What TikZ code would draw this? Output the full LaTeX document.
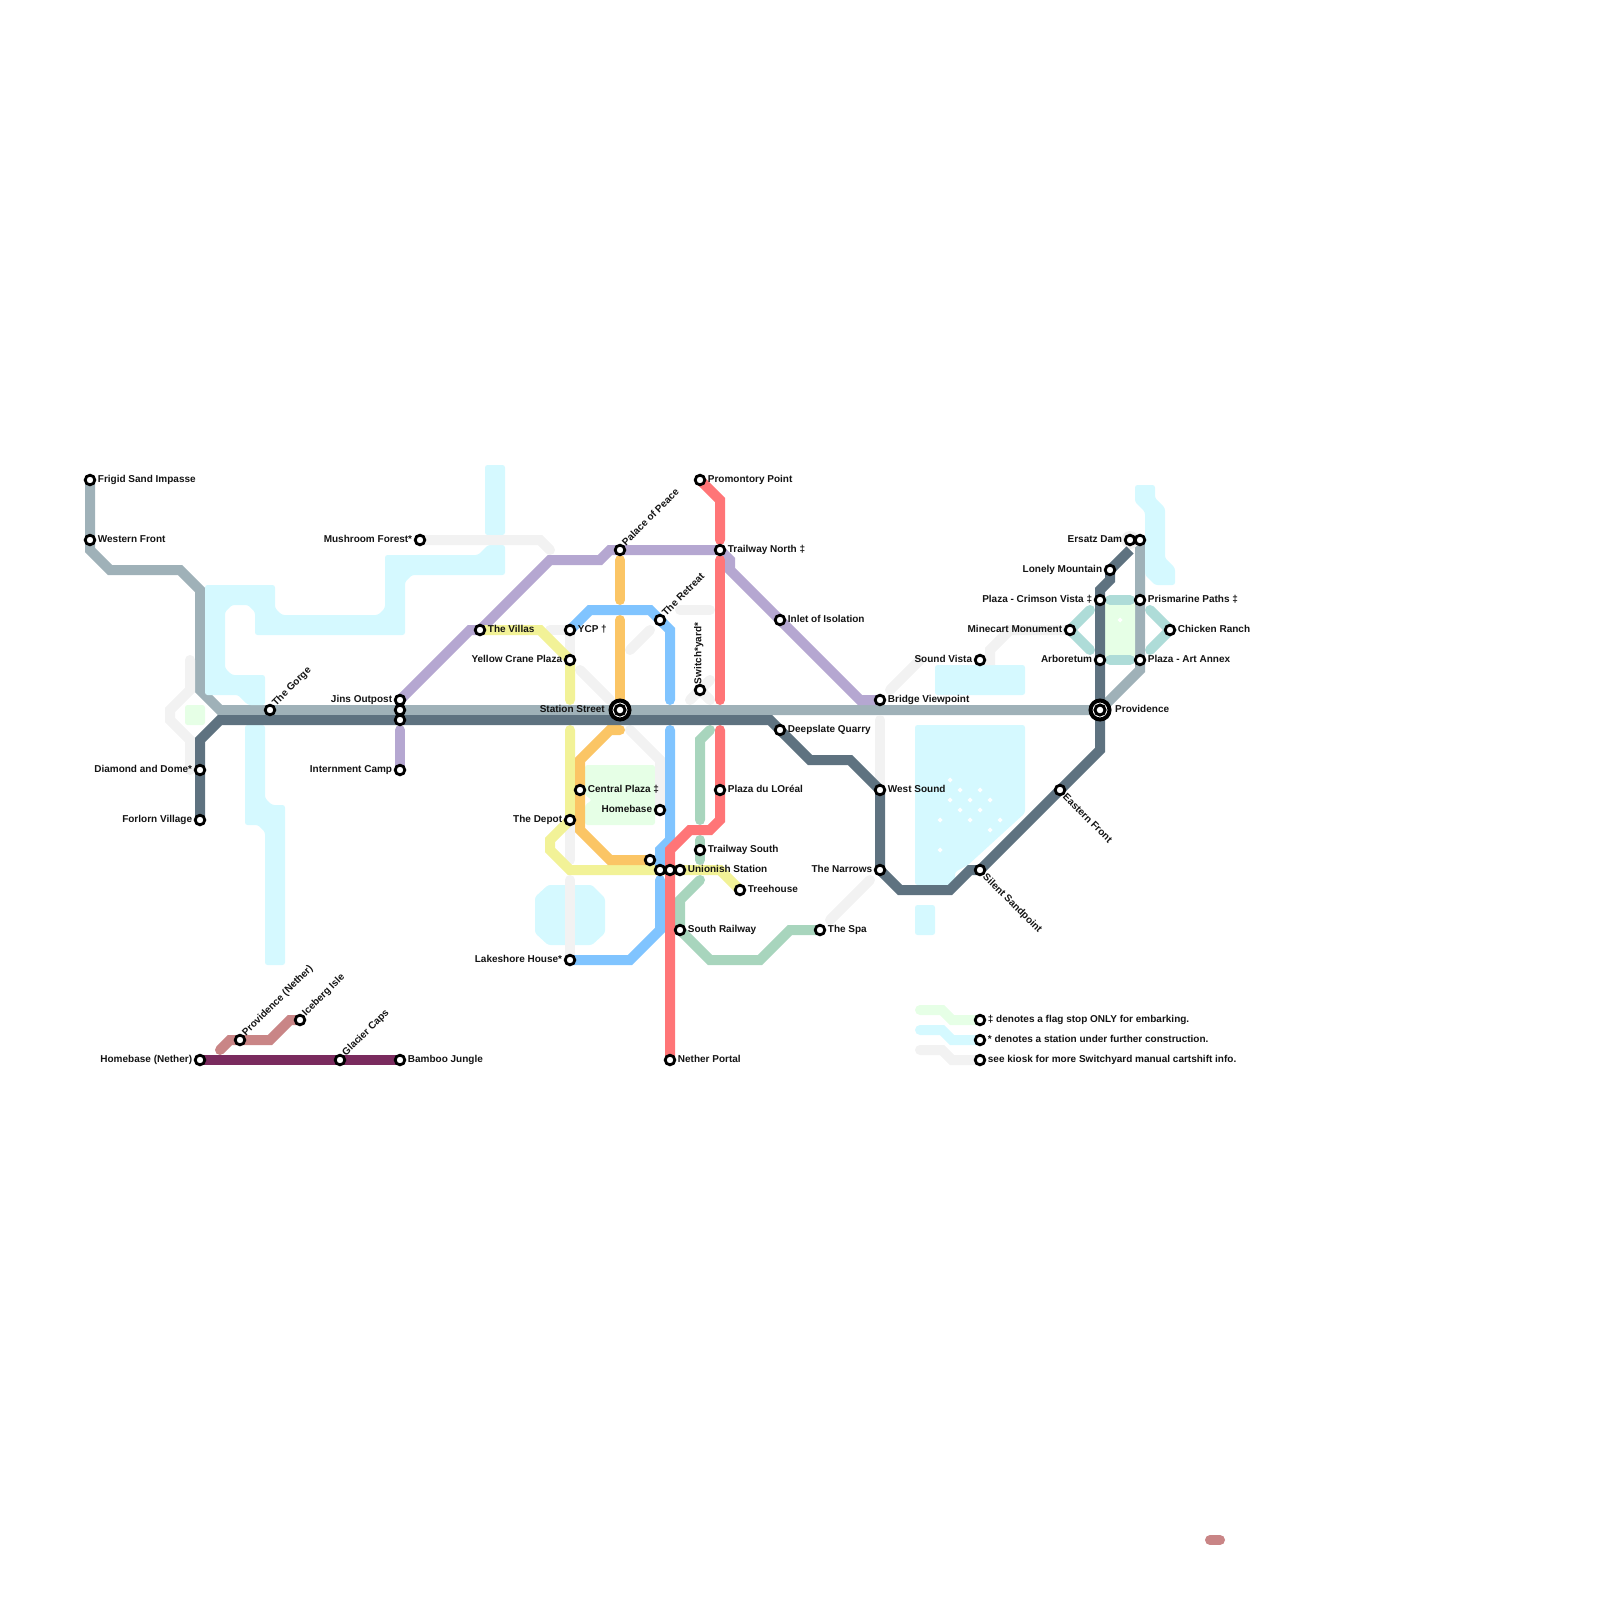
\documentclass[tikz,border=0pt]{standalone}
\usepackage{fontspec}
\setmainfont{Liberation Sans}
\usepackage{tikz}
\usetikzlibrary{backgrounds}
\definecolor{Frost}{HTML}{D5F9FF}
\definecolor{Mint}{HTML}{E6FFE6}
\definecolor{Haze}{HTML}{F2F2F2}
\definecolor{Steel}{HTML}{9FB1B8}
\definecolor{Slate}{HTML}{5E7280}
\definecolor{Lilac}{HTML}{B5A7D1}
\definecolor{Coral}{HTML}{FF7577}
\definecolor{Amber}{HTML}{FBC565}
\definecolor{Sky}{HTML}{80C4FF}
\definecolor{Lemon}{HTML}{F2F297}
\definecolor{Sage}{HTML}{A8D5BD}
\definecolor{Teal}{HTML}{AEDCD8}
\definecolor{Plum}{HTML}{7A2B5E}
\definecolor{Rose}{HTML}{C98586}
\tikzset{
maplabel/.style={font=\fontsize{10}{12}\selectfont\bfseries, inner sep=1pt, text height=7pt, text depth=1.7pt, text=black!92},
mapstop/.style={circle, draw=black, line width=2.8pt, fill=white, inner sep=0pt, outer sep=0pt, minimum size=9.6pt},
mapbig/.style={circle, draw=black, line width=4pt, fill=white, inner sep=0pt, outer sep=0pt, minimum size=19pt},
lblr/.style={label={[maplabel, anchor=west, label distance=1.9pt]0:#1}},
lbll/.style={label={[maplabel, anchor=east, label distance=1.9pt]180:#1}},
lblne/.style={label={[maplabel, rotate=45, anchor=west, label distance=1.3pt]45:#1}},
lblse/.style={label={[maplabel, rotate=-45, anchor=west, label distance=1.3pt]-45:#1}},
lblup/.style={label={[maplabel, rotate=90, anchor=west, label distance=1.3pt]90:#1}},
mapline/.style={line width=10pt, line cap=round, line join=miter},
mapwater/.style={fill=Frost, rounded corners=2.5pt},
mapfield/.style={fill=Mint, rounded corners=2.5pt}
}
\begin{document}
\begin{tikzpicture}[x=1pt, y=-1pt]
  \useasboundingbox (0,0) rectangle (1600,1600);
  % west side
  \node[mapstop, lblr={Frigid Sand Impasse}] (frigid) at (90,480) {};
  \node[mapstop, lblr={Western Front}] (western) at (90,540) {};
  \node[mapstop, lbll={Diamond and Dome*}] (diamond) at (200,770) {};
  \node[mapstop, lbll={Forlorn Village}] (forlorn) at (200,820) {};
  \node[mapstop, lblne={The Gorge}] (gorge) at (270,710) {};
  \node[mapstop, lbll={Mushroom Forest*}] (mushroom) at (420,540) {};
  \node[mapstop, lbll={Jins Outpost}] (jins) at (400,700) {};
  \node[mapstop] (jinsmid) at (400,710) {};
  \node[mapstop] (jinslow) at (400,720) {};
  \node[mapstop, lbll={Internment Camp}] (internment) at (400,770) {};
  \node[mapstop, lblr={The Villas}] (villas) at (480,630) {};
  % centre
  \node[mapstop, lblr={YCP †}] (ycp) at (570,630) {};
  \node[mapstop, lbll={Yellow Crane Plaza}] (crane) at (570,660) {};
  \node[mapstop, lbll={The Depot}] (depot) at (570,820) {};
  \node[mapstop, lbll={Lakeshore House*}] (lakeshore) at (570,960) {};
  \node[mapstop, lblr={Central Plaza ‡}] (central) at (580,790) {};
  \node[mapstop, lblne={Palace of Peace}] (palace) at (620,550) {};
  \node[mapbig, label={[maplabel, anchor=east, label distance=4.5pt]180:Station Street}] (station) at (620,710) {};
  \node[mapstop, minimum size=10pt, line width=3pt] (stationin) at (620,710) {};
  \node[mapstop] (orangeend) at (650,860) {};
  \node[mapstop, lblne={The Retreat}] (retreat) at (660,620) {};
  \node[mapstop, lbll={Homebase}] (homebase) at (660,810) {};
  \node[mapstop] (unionw) at (660,870) {};
  \node[mapstop] (unionm) at (670,870) {};
  \node[mapstop, lblr={Unionish Station}] (union) at (680,870) {};
  \node[mapstop, lblr={Nether Portal}] (nether) at (670,1060) {};
  \node[mapstop, lblr={South Railway}] (south) at (680,930) {};
  \node[mapstop, lblr={Promontory Point}] (promontory) at (700,480) {};
  \node[mapstop, lblup={Switch*yard*}] (switchyard) at (700,690) {};
  \node[mapstop, lblr={Trailway South}] (trailsouth) at (700,850) {};
  \node[mapstop, lblr={Trailway North ‡}] (trailnorth) at (720,550) {};
  \node[mapstop, lblr={Plaza du LOréal}] (loreal) at (720,790) {};
  \node[mapstop, lblr={Treehouse}] (treehouse) at (740,890) {};
  \node[mapstop, lblr={Inlet of Isolation}] (inlet) at (780,620) {};
  \node[mapstop, lblr={Deepslate Quarry}] (deepslate) at (780,730) {};
  \node[mapstop, lblr={The Spa}] (spa) at (820,930) {};
  % east side
  \node[mapstop, lblr={Bridge Viewpoint}] (bridge) at (880,700) {};
  \node[mapstop, lblr={West Sound}] (westsound) at (880,790) {};
  \node[mapstop, lbll={The Narrows}] (narrows) at (880,870) {};
  \node[mapstop, lbll={Sound Vista}] (vista) at (980,660) {};
  \node[mapstop, lblse={Silent Sandpoint}] (silent) at (980,870) {};
  \node[mapstop, lblse={Eastern Front}] (eastern) at (1060,790) {};
  \node[mapstop, lbll={Minecart Monument}] (minecart) at (1070,630) {};
  \node[mapstop, lbll={Plaza - Crimson Vista ‡}] (crimson) at (1100,600) {};
  \node[mapstop, lbll={Arboretum}] (arboretum) at (1100,660) {};
  \node[mapbig, label={[maplabel, anchor=west, label distance=4.5pt]0:Providence}] (providence) at (1100,710) {};
  \node[mapstop, minimum size=10pt, line width=3pt] (providencein) at (1100,710) {};
  \node[mapstop, lbll={Lonely Mountain}] (lonely) at (1110,570) {};
  \node[mapstop, lbll={Ersatz Dam}] (ersatz) at (1130,540) {};
  \node[mapstop] (ersatzr) at (1140,540) {};
  \node[mapstop, lblr={Prismarine Paths ‡}] (prismarine) at (1140,600) {};
  \node[mapstop, lblr={Plaza - Art Annex}] (annex) at (1140,660) {};
  \node[mapstop, lblr={Chicken Ranch}] (chicken) at (1170,630) {};
  % nether
  \node[mapstop, lbll={Homebase (Nether)}] (homenether) at (200,1060) {};
  \node[mapstop, lblne={Providence (Nether)}] (provnether) at (240,1040) {};
  \node[mapstop, lblne={Iceberg Isle}] (iceberg) at (300,1020) {};
  \node[mapstop, lblne={Glacier Caps}] (glacier) at (340,1060) {};
  \node[mapstop, lblr={Bamboo Jungle}] (bamboo) at (400,1060) {};
  % key
  \node[mapstop, lblr={‡ denotes a flag stop ONLY for embarking.}] (keyflag) at (980,1020) {};
  \node[mapstop, lblr={* denotes a station under further construction.}] (keybuild) at (980,1040) {};
  \node[mapstop, lblr={see kiosk for more Switchyard manual cartshift info.}] (keykiosk) at (980,1060) {};

  \begin{scope}[on background layer]
    % trunk first, the water sits on its corner
    \draw[mapline, draw=Steel, line cap=butt] (frigid.center) -- (western.center) -- (90,550) -- (110,570) -- (180,570) -- (200,590) -- (200,690) -- (220,710) -- (gorge.center) -- (jinsmid.center) -- (station.center) -- (providence.center) -- (1140,670) -- (annex.center) -- (prismarine.center) -- (ersatzr.center);
    % water
    \path[mapwater] (485,465) rectangle (505,535);
    \path[mapwater] (385,555) -- (478,555) -- (488,545) -- (505,545) -- (505,575) -- (412,575) -- (405,582) -- (405,635) -- (255,635) -- (255,612) -- (248,605) -- (232,605) -- (225,612) -- (225,668) -- (232,675) -- (265,675) -- (265,705) -- (248,705) -- (238,695) -- (205,695) -- (205,585) -- (275,585) -- (275,608) -- (282,615) -- (378,615) -- (385,608) -- cycle;
    \path[mapwater] (245,725) -- (265,725) -- (265,798) -- (272,805) -- (285,805) -- (285,965) -- (265,965) -- (265,832) -- (258,825) -- (245,825) -- cycle;
    \path[mapwater] (535,897) -- (548,885) -- (592,885) -- (605,898) -- (605,933) -- (592,945) -- (548,945) -- (535,933) -- cycle;
    \path[mapwater] (935,665) rectangle (1025,695);
    \path[mapwater] (915,905) rectangle (935,935);
    \path[mapwater] (915,725) -- (1025,725) -- (1025,813) -- (968,865) -- (955,872) -- (955,885) -- (915,885) -- cycle;
    \path[mapwater] (1135,485) -- (1155,485) -- (1155,498) -- (1165,508) -- (1165,558) -- (1175,568) -- (1175,585) -- (1155,585) -- (1145,575) -- (1145,512) -- (1135,502) -- cycle;
    \foreach \dotx/\doty in {950/780,960/790,980/790,950/800,970/800,990/800,960/810,980/810,940/820,970/820,1000/820,990/830,940/850}
      \fill[white] (\dotx-2.5,\doty) -- (\dotx,\doty-2.5) -- (\dotx+2.5,\doty) -- (\dotx,\doty+2.5) -- cycle;
    % fields
    \path[mapfield] (185,705) rectangle (205,725);
    \path[mapfield] (585,765) -- (655,765) -- (655,825) -- (585,825) -- (585,805) -- (592,800) -- (585,795) -- cycle;
    \path[mapfield] (1105,603) rectangle (1135,657);
    \fill[white] (1117.5,620) -- (1120,617.5) -- (1122.5,620) -- (1120,622.5) -- cycle;
    % switchyard tracks
    \draw[mapline, draw=Haze] (mushroom.center) -- (540,540) -- (550,550);
    \draw[mapline, draw=Haze] (190,660) -- (190,690) -- (170,710) -- (170,720) -- (190,740) -- (190,770);
    \draw[mapline, draw=Haze] (550,630) -- (ycp.center) -- (crane.center);
    \draw[mapline, draw=Haze] (580,670) -- (610,700);
    \draw[mapline, draw=Haze] (630,730) -- (660,760) -- (homebase.center);
    \draw[mapline, draw=Haze] (depot.center) -- (570,860);
    \draw[mapline, draw=Haze] (570,880) -- (lakeshore.center);
    \draw[mapline, draw=Haze] (630,650) -- (650,630);
    \draw[mapline, draw=Haze] (680,610) -- (710,610);
    \draw[mapline, draw=Haze] (690,700) -- (710,680);
    \draw[mapline, draw=Haze] (switchyard.center) -- (710,700);
    \draw[mapline, draw=Haze] (880,720) -- (westsound.center);
    \draw[mapline, draw=Haze] (890,690) -- (920,660);
    \draw[mapline, draw=Haze] (vista.center) -- (990,660) -- (990,650) -- (1010,630) -- (minecart.center);
    \draw[mapline, draw=Haze] (830,920) -- (870,880);
    \fill[Haze] (ersatz.center) circle (9);
    % lines
    \draw[mapline, draw=Lilac] (jins.center) -- (470,630) -- (villas.center) -- (550,560) -- (600,560) -- (610,550) -- (palace.center) -- (trailnorth.center) -- (730,560) -- (730,570) -- (inlet.center) -- (860,700) -- (bridge.center);
    \draw[mapline, draw=Lilac] (400,730) -- (internment.center);
    \draw[mapline, draw=Lemon] (villas.center) -- (540,630) -- (crane.center) -- (570,700);
    \draw[mapline, draw=Lemon] (570,730) -- (depot.center) -- (550,840) -- (550,850) -- (570,870) -- (union.center) -- (720,870) -- (treehouse.center);
    \draw[mapline, draw=Amber] (620,560) -- (620,600);
    \draw[mapline, draw=Amber] (620,620) -- (620,700);
    \draw[mapline, draw=Amber] (620,730) -- (610,730) -- (580,760) -- (central.center) -- (580,830) -- (610,860) -- (orangeend.center);
    \draw[mapline, draw=Sky] (ycp.center) -- (590,610) -- (650,610) -- (retreat.center) -- (670,630) -- (670,700);
    \draw[mapline, draw=Sky] (670,730) -- (670,840) -- (660,850) -- (unionw.center);
    \draw[mapline, draw=Sky] (660,880) -- (660,930) -- (630,960) -- (lakeshore.center);
    \draw[mapline, draw=Sage] (710,730) -- (700,740) -- (700,820);
    \draw[mapline, draw=Sage] (700,840) -- (700,860);
    \draw[mapline, draw=Sage] (700,880) -- (680,900) -- (south.center) -- (710,960) -- (760,960) -- (790,930) -- (spa.center);
    \draw[mapline, draw=Coral] (promontory.center) -- (720,500) -- (720,540);
    \draw[mapline, draw=Coral] (720,560) -- (720,700);
    \draw[mapline, draw=Coral] (720,730) -- (loreal.center) -- (720,820) -- (710,830) -- (690,830) -- (670,850) -- (nether.center);
    \draw[mapline, draw=Teal] (1110,600) -- (1130,600);
    \draw[mapline, draw=Teal] (1110,660) -- (1130,660);
    \draw[mapline, draw=Teal] (1090,610) -- (minecart.center) -- (1090,650);
    \draw[mapline, draw=Teal] (1150,610) -- (chicken.center) -- (1150,650);
    \draw[mapline, draw=Rose] (220,1050) -- (230,1040) -- (270,1040) -- (290,1020) -- (iceberg.center);
    \draw[mapline, draw=Rose] (1210,1540) -- (1220,1540);
    \draw[mapline, draw=Plum, line cap=butt] (homenether.center) -- (bamboo.center);
    \draw[mapline, draw=Slate, line cap=butt] (forlorn.center) -- (200,740) -- (220,720) -- (jinslow.center) -- (770,720) -- (810,760) -- (850,760) -- (westsound.center) -- (narrows.center) -- (900,890) -- (950,890) -- (970,870) -- (silent.center) -- (eastern.center) -- (1100,750) -- (providence.center) -- (arboretum.center) -- (crimson.center) -- (1100,590) -- (1110,580) -- (lonely.center) -- (1130,550);
    % key swatches
    \draw[mapline, draw=Mint] (920,1010) -- (942,1010) -- (952,1020) -- (keyflag.center);
    \draw[mapline, draw=Frost] (920,1030) -- (942,1030) -- (952,1040) -- (keybuild.center);
    \draw[mapline, draw=Haze] (920,1050) -- (942,1050) -- (952,1060) -- (keykiosk.center);
  \end{scope}
\end{tikzpicture}
\end{document}
